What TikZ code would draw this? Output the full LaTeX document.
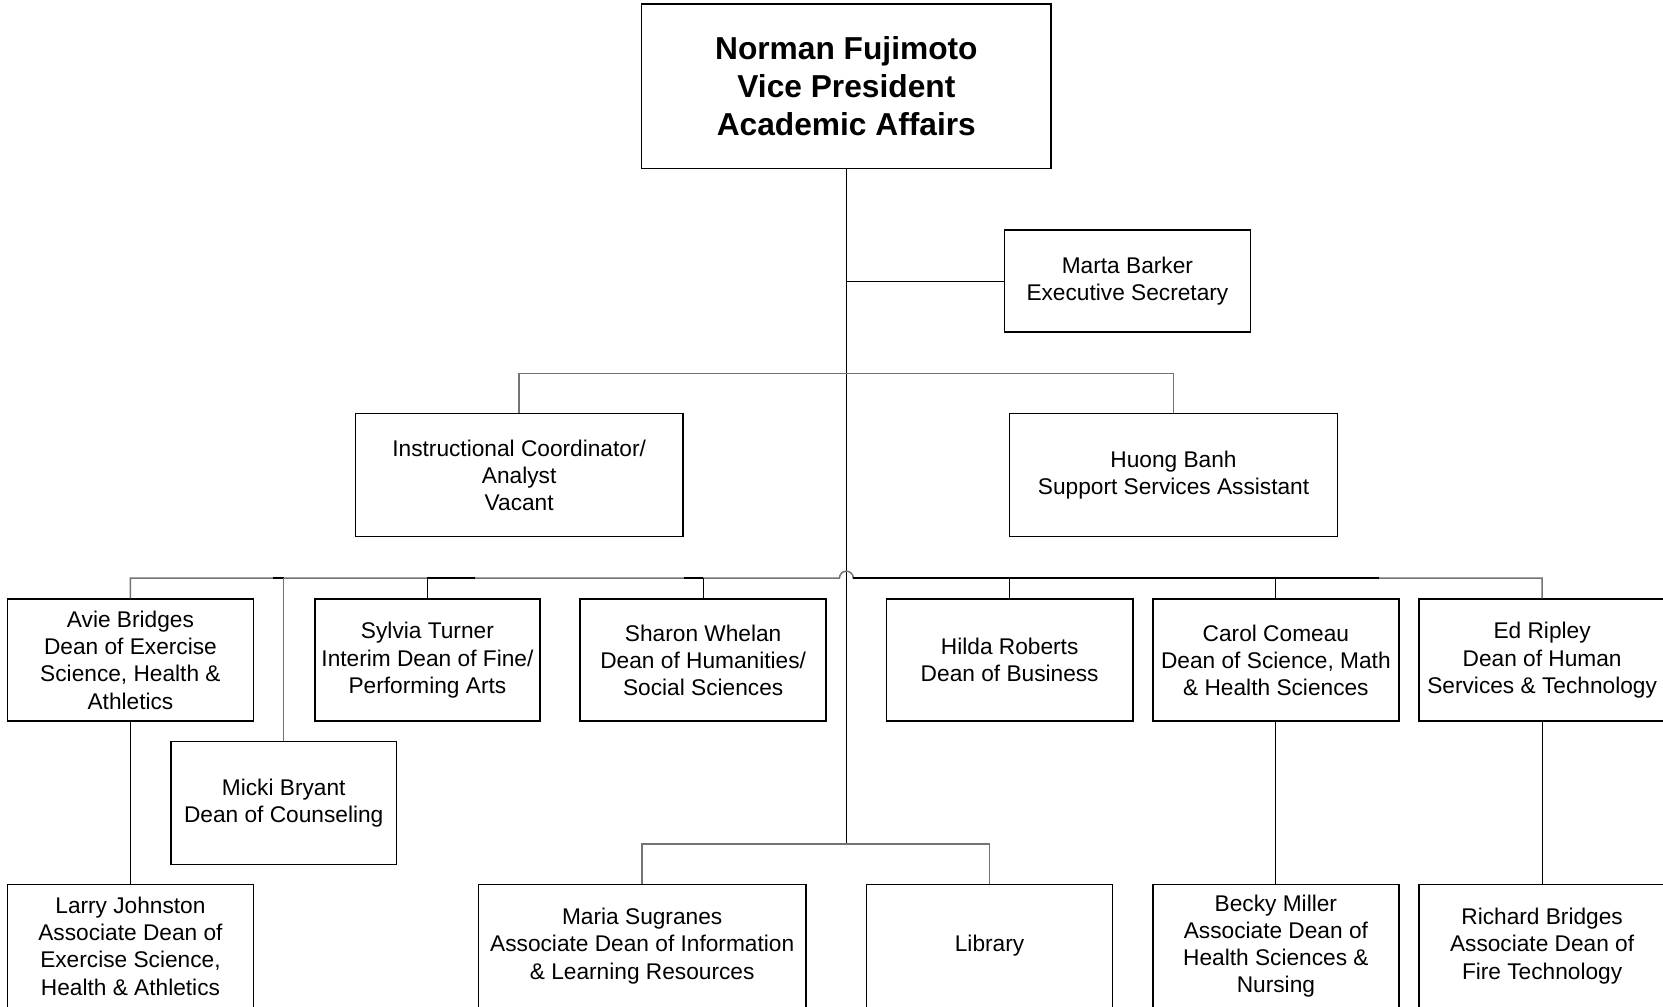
\documentclass[tikz,border=0pt]{standalone}
\usepackage{fontspec}
\setmainfont{Liberation Sans}
\usetikzlibrary{calc}
\begin{document}
\begin{tikzpicture}[x=1pt,y=-1pt,
  box/.style={draw=black, line width=1.5pt, fill=white, rectangle, align=center,
    inner sep=0pt, font=\fontsize{21.4pt}{25.7pt}\selectfont},
  topbox/.style={box, font=\fontsize{29.9pt}{36pt}\selectfont\bfseries},
  link/.style={draw=black, line width=0.9pt},
  bus/.style={draw=black!55, line width=1.4pt},
  busdark/.style={draw=black, line width=1.6pt}]
\useasboundingbox (0,0) rectangle (1568,949);

% --- boxes ---
\node[topbox, minimum width=386pt, minimum height=155pt] (vp) at (798,81.5)
  {Norman Fujimoto\\Vice President\\Academic Affairs};
\node[box, minimum width=232pt, minimum height=96pt] (marta) at (1063,265)
  {Marta Barker\\Executive Secretary};
\node[box, minimum width=309pt, minimum height=116pt] (instr) at (489.5,448)
  {Instructional Coordinator/\\Analyst\\Vacant};
\node[box, minimum width=309pt, minimum height=116pt] (huong) at (1106.5,448)
  {Huong Banh\\Support Services Assistant};

\node[box, minimum width=232pt, minimum height=115pt] (avie) at (123,622.5)
  {Avie Bridges\\Dean of Exercise\\Science, Health \&\\Athletics};
\node[box, minimum width=212pt, minimum height=115pt] (sylvia) at (403,622.5)
  {Sylvia Turner\\Interim Dean of Fine/\\Performing Arts};
\node[box, minimum width=232pt, minimum height=115pt] (sharon) at (663,622.5)
  {Sharon Whelan\\Dean of Humanities/\\Social Sciences};
\node[box, minimum width=232pt, minimum height=115pt] (hilda) at (952,622.5)
  {Hilda Roberts\\Dean of Business};
\node[box, minimum width=232pt, minimum height=115pt] (carol) at (1203,622.5)
  {Carol Comeau\\Dean of Science, Math\\\& Health Sciences};
\node[box, minimum width=232pt, minimum height=115pt] (ed) at (1454,622.5)
  {Ed Ripley\\Dean of Human\\Services \& Technology};

\node[box, minimum width=213pt, minimum height=116pt] (micki) at (267.5,757)
  {Micki Bryant\\Dean of Counseling};

\node[box, minimum width=232pt, minimum height=116pt] (larry) at (123,892)
  {Larry Johnston\\Associate Dean of\\Exercise Science,\\Health \& Athletics};
\node[box, minimum width=309pt, minimum height=116pt] (maria) at (605.5,892)
  {Maria Sugranes\\Associate Dean of Information\\\& Learning Resources};
\node[box, minimum width=232pt, minimum height=116pt] (library) at (933,892)
  {Library};
\node[box, minimum width=232pt, minimum height=116pt] (becky) at (1203,892)
  {Becky Miller\\Associate Dean of\\Health Sciences \&\\Nursing};
\node[box, minimum width=232pt, minimum height=116pt] (richard) at (1454,892)
  {Richard Bridges\\Associate Dean of\\Fire Technology};

% --- junction points on the trunk ---
\coordinate (b2) at (798,352);
\coordinate (b3) at (798,545);
\coordinate (b4) at (798,796);

% --- trunk and staff line ---
\draw[link] (vp.south) -- (b4);
\draw[link] (vp.south |- marta.west) -- (marta.west);

% --- assistants ---
\draw[bus] (instr.north) |- (b2) -| (huong.north);

% --- deans: bus line hopping over the trunk ---
\draw[bus] (avie.north) |- ($(b3)+(-6.5,0)$) arc (180:0:6.5pt) -- (b3 -| ed.north) -- (ed.north);
\draw[busdark] ($(micki.north |- b3)+(-10,0)$) -- (micki.north |- b3);
\draw[busdark] (sylvia.north |- b3) -- ($(sylvia.north |- b3)+(45,0)$);
\draw[busdark] ($(sharon.north |- b3)+(-18,0)$) -- (sharon.north |- b3);
\draw[busdark] ($(b3)+(6.5,0)$) -- ($(carol.north |- b3)+(97,0)$);
\foreach \n in {sylvia,sharon,hilda,carol}
  \draw[link] (\n.north) -- (\n.north |- b3);
\draw[bus] (micki.north) -- (micki.north |- b3);

% --- associate deans ---
\draw[link] (avie.south) -- (larry.north);
\draw[link] (carol.south) -- (becky.north);
\draw[link] (ed.south) -- (richard.north);
\draw[bus] (maria.north) |- (b4) -| (library.north);
\end{tikzpicture}
\end{document}
